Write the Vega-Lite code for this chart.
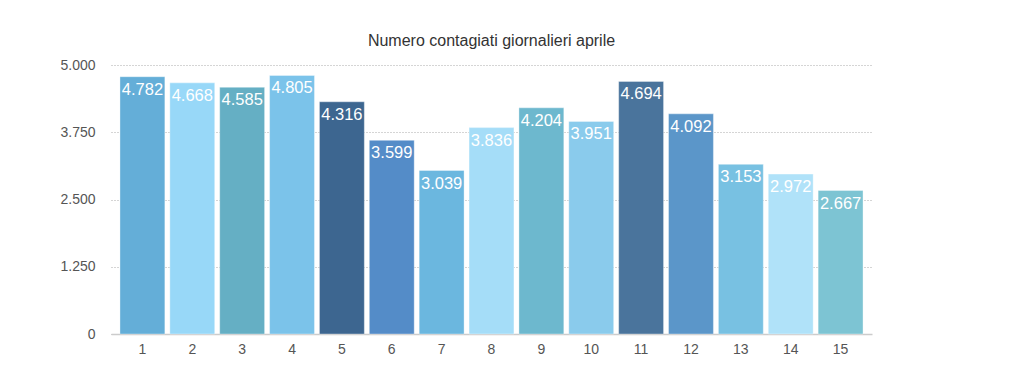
{
  "$schema": "https://vega.github.io/schema/vega-lite/v6.json",
  "width": 761,
  "height": 269,
  "autosize": {"type": "none"},
  "padding": {"left": 111, "top": 65, "right": 152, "bottom": 57},
  "background": "white",
  "config": {
    "font": "Liberation Sans",
    "view": {"stroke": null},
    "locale": {"number": {"decimal": ",", "thousands": ".", "grouping": [3], "currency": ["€", ""]}}
  },
  "title": {"text": "Numero contagiati giornalieri aprile", "fontSize": 16, "fontWeight": "normal", "color": "#333333", "offset": 9, "anchor": "middle"},
  "data": {
    "values": [
      {"giorno": 1, "casi": 4782, "colore": "#64aed8"},
      {"giorno": 2, "casi": 4668, "colore": "#98d8f8"},
      {"giorno": 3, "casi": 4585, "colore": "#65afc4"},
      {"giorno": 4, "casi": 4805, "colore": "#7bc3ea"},
      {"giorno": 5, "casi": 4316, "colore": "#3d6690"},
      {"giorno": 6, "casi": 3599, "colore": "#548cc8"},
      {"giorno": 7, "casi": 3039, "colore": "#6bb7df"},
      {"giorno": 8, "casi": 3836, "colore": "#a5ddf8"},
      {"giorno": 9, "casi": 4204, "colore": "#6db8ce"},
      {"giorno": 10, "casi": 3951, "colore": "#8acbec"},
      {"giorno": 11, "casi": 4694, "colore": "#4a749c"},
      {"giorno": 12, "casi": 4092, "colore": "#5b96c9"},
      {"giorno": 13, "casi": 3153, "colore": "#78c1e2"},
      {"giorno": 14, "casi": 2972, "colore": "#b0e2f9"},
      {"giorno": 15, "casi": 2667, "colore": "#7dc4d3"}
    ]
  },
  "encoding": {
    "x": {
      "field": "giorno", "type": "ordinal", "title": null,
      "scale": {"paddingInner": 0.1, "paddingOuter": 0.18},
      "axis": {"labelAngle": 0, "labelFontSize": 14, "labelColor": "#555555", "domainColor": "#cccccc", "domainWidth": 1.5, "ticks": false, "labelPadding": 8}
    },
    "y": {
      "field": "casi", "type": "quantitative", "title": null,
      "scale": {"domain": [0, 5000]},
      "axis": {"values": [0, 1250, 2500, 3750, 5000], "format": ",.0f", "labelFontSize": 14, "labelColor": "#555555", "domain": false, "ticks": false, "labelPadding": 16, "gridColor": "#aaaaaa", "gridDash": [1, 2], "gridWidth": 1}
    }
  },
  "layer": [
    {
      "mark": {"type": "bar", "stroke": "#ffffff", "strokeOpacity": 0.35, "strokeWidth": 1},
      "encoding": {"color": {"field": "colore", "type": "nominal", "scale": null, "legend": null}}
    },
    {
      "mark": {"type": "text", "baseline": "top", "dy": 5, "fontSize": 16.5, "color": "white"},
      "encoding": {"text": {"field": "casi", "type": "quantitative", "format": ",.0f"}}
    }
  ]
}
